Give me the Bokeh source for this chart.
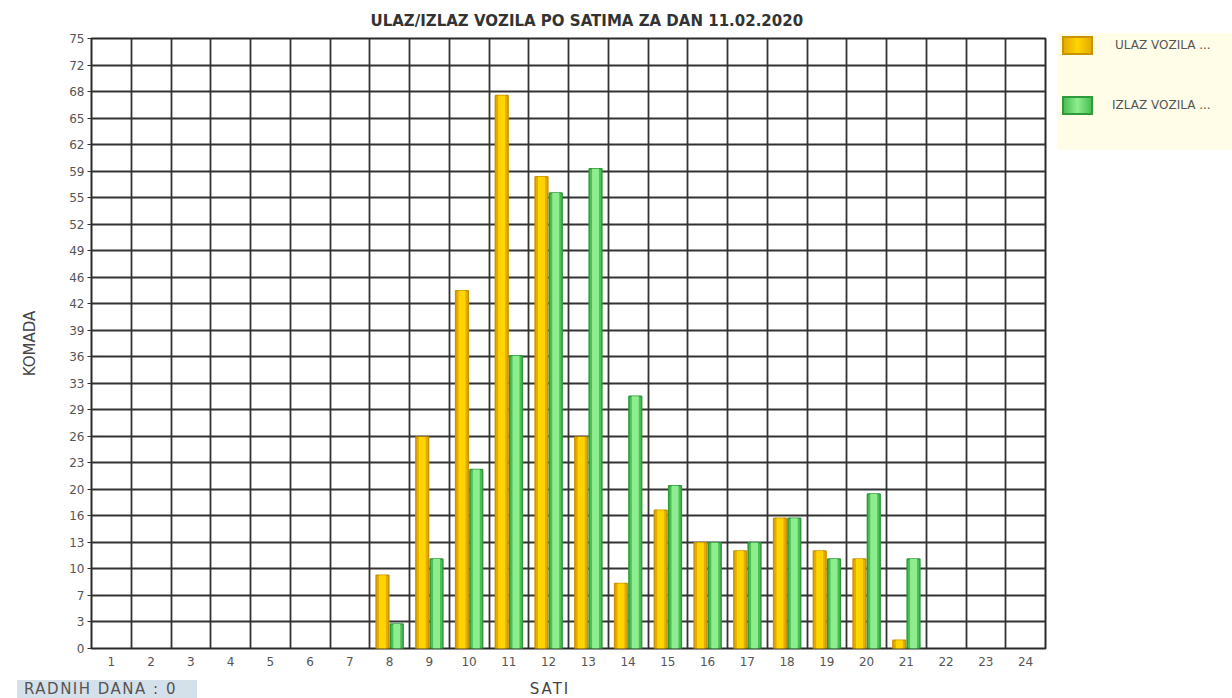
from bokeh.plotting import figure
from bokeh.layouts import column, row
from bokeh.models import (Range1d, FixedTicker, CustomJSTickFormatter,
                          ColumnDataSource, CDSView, BooleanFilter, Div)
from bokeh.transform import dodge
from bokeh.embed import file_html
from bokeh.resources import INLINE

# ---- data ----
hours = list(range(1, 25))
hour_labels = [str(h) for h in hours]
ulaz = [0, 0, 0, 0, 0, 0, 0, 9, 26, 44, 68, 58, 26, 8, 17, 13, 12, 16, 12, 11, 1, 0, 0, 0]
izlaz = [0, 0, 0, 0, 0, 0, 0, 3, 11, 22, 36, 56, 59, 31, 20, 13, 13, 16, 11, 19, 11, 0, 0, 0]
y_tick_labels = [0, 3, 7, 10, 13, 16, 20, 23, 26, 29, 33, 36, 39, 42, 46, 49, 52, 55,
                 59, 62, 65, 68, 72, 75]
series_names = ["ULAZ VOZILA ...", "IZLAZ VOZILA ..."]
title_text = "ULAZ/IZLAZ VOZILA PO SATIMA ZA DAN 11.02.2020"
x_title = "SATI"
y_title = "KOMADA"
footer_text = "RADNIH DANA : 0"

# colours: (edge fill, core fill, outline)
ULAZ_COL = ("#e6ac00", "#ffd400", "#c99400")
IZLAZ_COL = ("#4cbf55", "#8eed8e", "#2f9a3c")

y_max = y_tick_labels[-1]
n_steps = len(y_tick_labels) - 1
y_ticks = [y_max * i / n_steps for i in range(n_steps + 1)]

src = ColumnDataSource(dict(hour=hours, ulaz=ulaz, izlaz=izlaz))
view_u = CDSView(filter=BooleanFilter([v > 0 for v in ulaz]))
view_i = CDSView(filter=BooleanFilter([v > 0 for v in izlaz]))

FONT = "DejaVu Sans"

fig = figure(width=1057, height=680, x_range=Range1d(0.5, 24.5), y_range=Range1d(0, y_max),
             output_backend="svg", toolbar_location=None, title=title_text,
             min_border_left=91, min_border_right=12, min_border_top=38, min_border_bottom=32)
fig.background_fill_color = "white"
fig.border_fill_color = "white"
fig.outline_line_color = "#2a2a2a"
fig.outline_line_width = 2

# title
fig.title.align = "left"
fig.title.offset = 279
fig.title.standoff = 18
fig.title.text_font = FONT
fig.title.text_font_size = "15px"
fig.title.text_font_style = "bold"
fig.title.text_color = "#333333"

# grids
fig.xgrid.ticker = FixedTicker(ticks=[h - 0.5 for h in hours] + [hours[-1] + 0.5])
fig.ygrid.ticker = FixedTicker(ticks=y_ticks)
for g in (fig.xgrid, fig.ygrid):
    g.grid_line_color = "#333333"
    g.grid_line_width = 1.8

# axes
fig.xaxis.ticker = FixedTicker(ticks=hours)
fig.xaxis.major_label_overrides = {h: l for h, l in zip(hours, hour_labels)}
fig.yaxis.ticker = FixedTicker(ticks=y_ticks)
fig.yaxis.formatter = CustomJSTickFormatter(args=dict(labels=y_tick_labels, n=n_steps, m=y_max),
                                            code="return String(labels[Math.round(tick*n/m)]);")
for ax in (fig.xaxis, fig.yaxis):
    ax.axis_line_color = None
    ax.minor_tick_line_color = None
    ax.major_label_text_font = FONT
    ax.major_label_text_font_size = "12px"
    ax.major_label_text_color = "#555555"
fig.xaxis.major_tick_line_color = None
fig.xaxis.major_label_standoff = 2
fig.yaxis.major_tick_in = 0
fig.yaxis.major_tick_out = 4
fig.yaxis.major_tick_line_color = "#333333"
fig.yaxis.major_label_standoff = 3
fig.yaxis.axis_label = y_title
fig.yaxis.axis_label_standoff = 27
fig.yaxis.axis_label_text_font = FONT
fig.yaxis.axis_label_text_font_size = "15px"
fig.yaxis.axis_label_text_font_style = "normal"
fig.yaxis.axis_label_text_color = "#444444"

# bars (outer with darker edge, inner lighter core for a bevel look)
bw = 0.32
off = 0.18
fig.vbar(x=dodge("hour", -off), top="ulaz", width=bw, source=src, view=view_u,
         fill_color=ULAZ_COL[0], line_color=ULAZ_COL[2], line_width=1.5)
fig.vbar(x=dodge("hour", -off), top="ulaz", width=bw * 0.55, source=src, view=view_u,
         fill_color=ULAZ_COL[1], line_color=None)
fig.vbar(x=dodge("hour", off), top="izlaz", width=bw, source=src, view=view_i,
         fill_color=IZLAZ_COL[0], line_color=IZLAZ_COL[2], line_width=1.5)
fig.vbar(x=dodge("hour", off), top="izlaz", width=bw * 0.55, source=src, view=view_i,
         fill_color=IZLAZ_COL[1], line_color=None)

# legend panel on the right
def swatch(top, col):
    return (f'<div style="position:absolute;left:5px;top:{top}px;width:31px;height:19px;'
            f'box-sizing:border-box;'
            f'background:linear-gradient(to right,{col[0]},{col[1]} 50%,{col[0]});'
            f'border:2px solid {col[2]};"></div>')

def lab(top, left, text):
    return (f'<div style="position:absolute;left:{left}px;top:{top}px;line-height:19px;'
            f'white-space:nowrap;">{text}</div>')

legend_html = ('<div style="position:relative;width:175px;height:117px;background:#fffce8;'
               f'font-family:\'{FONT}\';font-size:12px;color:#555555;">'
               + swatch(3, ULAZ_COL) + lab(3, 58, series_names[0])
               + swatch(63, IZLAZ_COL) + lab(63, 55, series_names[1])
               + '</div>')
legend_div = Div(text=legend_html, width=175, height=117, margin=(33, 0, 0, 0))

# bottom strip: footer box and x-axis title
footer = Div(text=footer_text, width=180, height=18, margin=(0, 0, 0, 17),
             styles={"background-color": "#d5e1ea", "font-family": FONT, "font-size": "15px",
                     "color": "#555555", "line-height": "18px", "padding-left": "7px",
                     "letter-spacing": "1.5px", "box-sizing": "border-box",
                     "white-space": "nowrap", "overflow": "hidden"})
sati = Div(text=x_title, width=60, height=18, margin=(0, 0, 0, 323),
           styles={"font-family": FONT, "font-size": "15px", "color": "#444444",
                   "line-height": "18px", "text-align": "center", "letter-spacing": "2px"})

p = column(row(fig, legend_div, spacing=0), row(footer, sati, spacing=0), spacing=0)

open("out.html", "w").write(file_html(p, INLINE))
